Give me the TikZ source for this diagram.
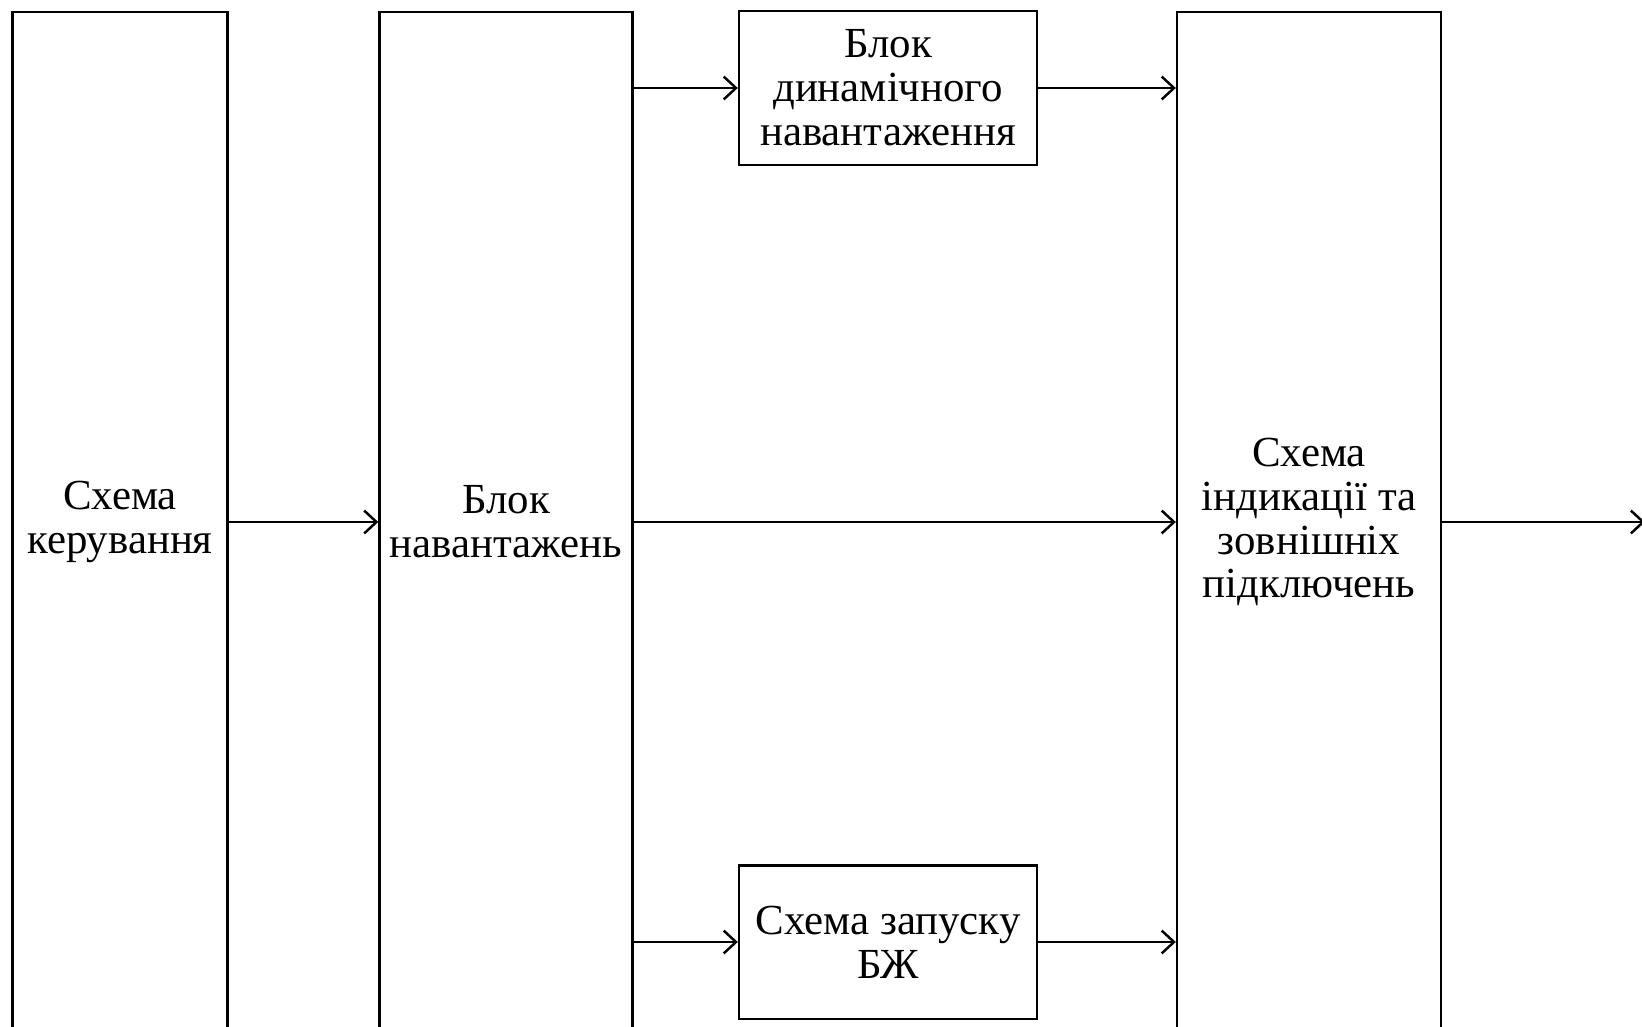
\documentclass[tikz,border=0pt]{standalone}
\usepackage{fontspec}
\setmainfont{Liberation Serif}
\usetikzlibrary{arrows.meta,positioning}

\begin{document}
\begin{tikzpicture}[
      x=0.02cm, y=-0.02cm,
      every node/.style={font=\fontsize{24.4}{25}\selectfont, align=center},
      tallbox/.style={draw, line width=1.4pt, inner sep=0pt, minimum height=20.4cm},
      smallbox/.style={draw, line width=1.4pt, inner sep=0pt, minimum width=5.96cm, minimum height=3.07cm},
      link/.style={line width=1.4pt, -{Straight Barb[length=7pt,width=13pt]}}
    ]
  \useasboundingbox (0,0) rectangle (1642,1027);
  \clip (0,0) rectangle (1642,1027);

  % --- hohe Bloecke (unten abgeschnitten) ---
  \node (ctrl)  [tallbox, minimum width=4.3cm]  at (120,522)  {Схема\\керування};
  \node (loads) [tallbox, minimum width=5.06cm] at (506,522)  {Блок\\навантажень};
  \node (ind)   [tallbox, minimum width=5.28cm] at (1309,522) {Схема\\індикації та\\зовнішніх\\підключень};

  % --- kleine Bloecke ---
  \node (dyn)   [smallbox] at (888,88)  {Блок\\динамічного\\навантаження};
  \node (start) [smallbox] at (888,942) {Схема запуску\\БЖ};

  \coordinate (out) at (1645,522);

  % Verbindungen
  \draw[link] (ctrl.east) -- (loads.west);
  \draw[link] (loads.east |- dyn.west) -- (dyn.west);
  \draw[link] (loads.east |- start.west) -- (start.west);
  \draw[link] (loads.east) -- (ind.west);
  \draw[link] (dyn.east) -- (ind.west |- dyn.east);
  \draw[link] (start.east) -- (ind.west |- start.east);
  \draw[link] (ind.east) -- (out);
\end{tikzpicture}
\end{document}
